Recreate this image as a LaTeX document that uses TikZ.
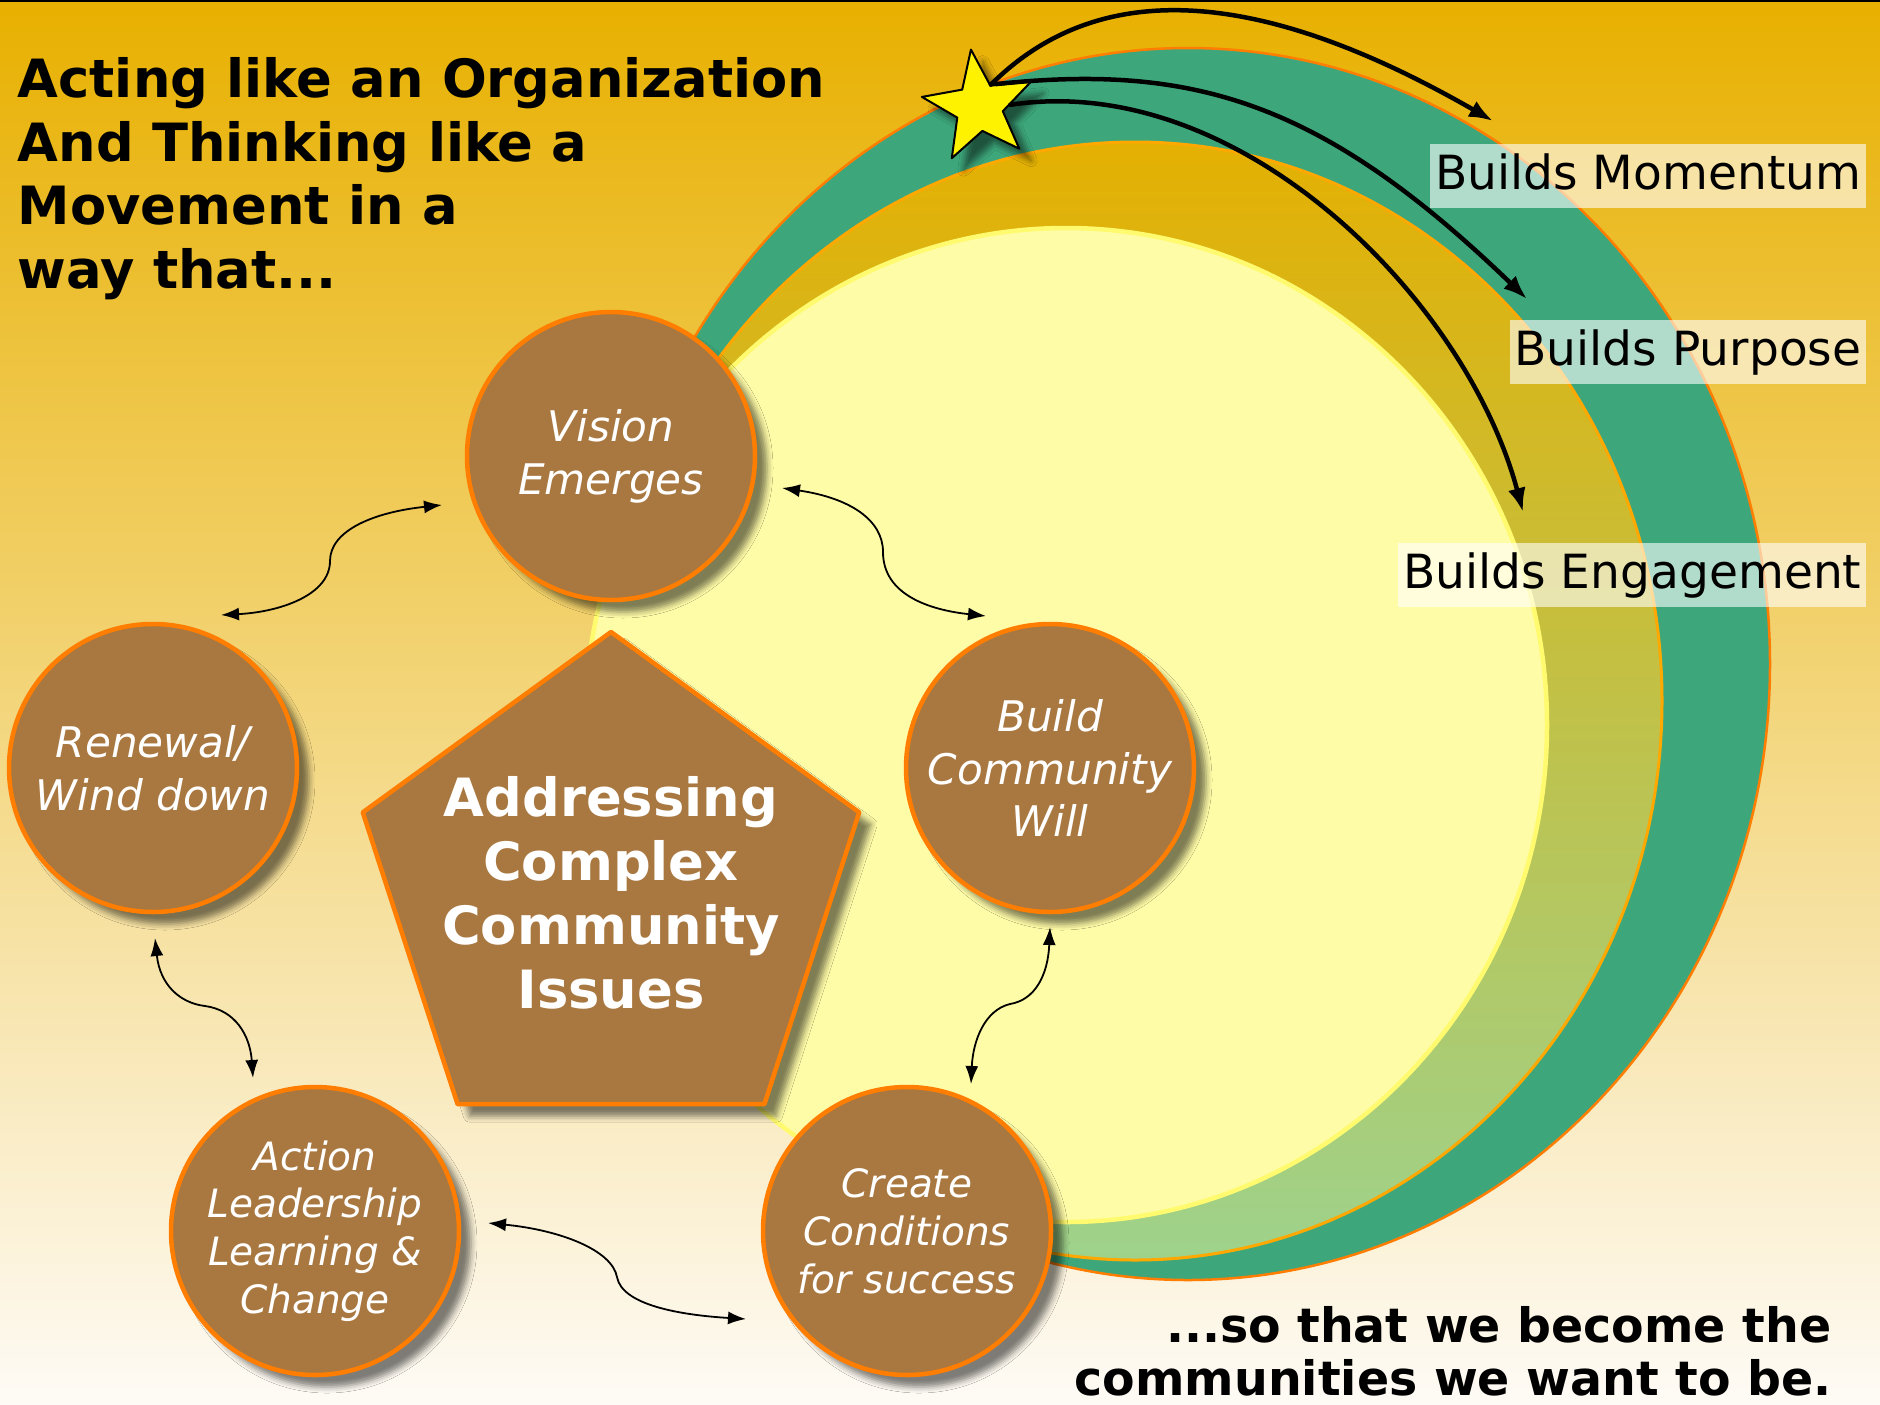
\documentclass[tikz,border=0pt]{standalone}
\usepackage{fontspec}
\setmainfont{DejaVu Sans}
\usetikzlibrary{arrows.meta,shapes.geometric,shadows.blur}
\definecolor{goldtop}{RGB}{232,176,0}
\definecolor{paper}{RGB}{254,251,246}
\definecolor{band}{RGB}{61,167,123}
\definecolor{ringtop}{RGB}{228,176,2}
\definecolor{ringbot}{RGB}{158,210,140}
\definecolor{pale}{RGB}{255,252,168}
\definecolor{paleedge}{RGB}{255,250,110}
\definecolor{rim}{RGB}{255,125,0}
\definecolor{rimlight}{RGB}{255,168,0}
\definecolor{bark}{RGB}{169,120,65}
\begin{document}
\begin{tikzpicture}[x=0.1mm, y=-0.1mm, line join=round, line cap=round,
  >={Latex[length=1.8mm,width=1.3mm]},
  soft/.style={blur shadow={shadow xshift=1.2mm, shadow yshift=-1.2mm, shadow blur radius=0.6mm, shadow opacity=50}},
  stage/.style={circle, soft, minimum size=28.8mm, inner sep=0pt, fill=bark, draw=rim, line width=0.45mm,
    text=white, align=center, font=\fontsize{12}{15}\selectfont\itshape},
  compact/.style={font=\fontsize{11.1}{13.6}\selectfont\itshape},
  link/.style={<->, line width=0.18mm},
  trail/.style={-{Latex[length=2.4mm,width=1.8mm]}, line width=0.45mm},
  tag/.style={anchor=east, fill=white, fill opacity=0.6, text opacity=1, inner xsep=0.5mm, minimum height=6.4mm,
    text height=0.75em, text depth=0pt, font=\fontsize{13.4}{16}\selectfont},
  heading/.style={inner sep=0pt, font=\fontsize{15}{18.1}\selectfont\bfseries}]
\def\W{1880} \def\H{1404}
\useasboundingbox (0,0) rectangle (\W,\H);
\shade[top color=goldtop, bottom color=paper] (0,0) rectangle (\W,\H);
\draw[line width=0.2mm] (0,1) -- (\W,1);
% the three bands behind the cycle
\draw[fill=band, draw=rim, line width=0.25mm] (1188,664) ellipse [x radius=582, y radius=616];
\shadedraw[top color=ringtop, bottom color=ringbot, draw=rimlight, line width=0.3mm] (1135,701) ellipse [x radius=527, y radius=559];
\draw[fill=pale, draw=paleedge, line width=0.45mm] (1066,725) ellipse [x radius=481, y radius=497];
% star and its trails
\node[star, star points=5, star point ratio=2.4, minimum size=11.6mm, inner sep=0pt, rotate=8,
  fill=yellow, draw=black, line width=0.2mm, soft] (star) at (979,107) {};
\coordinate (momentum) at (1493,121);
\coordinate (purpose) at (1527,299);
\coordinate (engage) at (1523,512);
\draw[trail] (star.54) .. controls (1095,-19) and (1251,-18) .. (momentum);
\draw[trail] (star.45) .. controls (1195,63) and (1324,103) .. (purpose);
\draw[trail] (star.-4) .. controls (1238,70) and (1466,298) .. (engage);
\node[tag] (momentumtag) at (1867,176) {Builds Momentum};
\node[tag] (purposetag) at (1867,352) {Builds Purpose};
\node[tag] (engagetag) at (1867,575) {Builds Engagement};
% cycle
\node[regular polygon, regular polygon sides=5, minimum size=52.2mm, inner sep=0pt, fill=bark, draw=rim,
  line width=0.45mm, soft,
  label={[name=issuestext, text=white, align=center, font=\fontsize{15}{18.2}\selectfont\bfseries]center:{Addressing\\Complex\\Community\\Issues}}]
  (issues) at (611,893) {};
\node[stage] (vision) at (611,456) {Vision\\Emerges};
\node[stage] (build) at (1050,768) {Build\\Community\\Will};
\node[stage, compact] (create) at (907,1231) {Create\\Conditions\\for success};
\node[stage, compact] (action) at (315,1231) {Action\\Leadership\\Learning \&\\Change};
\node[stage] (renewal) at (153,768) {Renewal/\\Wind down};
\coordinate (v1) at (442,505); \coordinate (r1) at (221,615);
\coordinate (v2) at (782,488); \coordinate (b1) at (986,616);
\coordinate (b2) at (1050,927); \coordinate (c1) at (971,1084);
\coordinate (c2) at (746,1319); \coordinate (a1) at (488,1223);
\coordinate (a2) at (253,1078); \coordinate (r2) at (155,938);
\draw[link] (v1) .. controls (375,512) and (330,530) .. (330,561) .. controls (330,595) and (280,612) .. (r1);
\draw[link] (v2) .. controls (850,498) and (883,520) .. (883,552) .. controls (883,595) and (930,610) .. (b1);
\draw[link] (b2) .. controls (1048,975) and (1035,1000) .. (1010,1004) .. controls (985,1010) and (973,1040) .. (c1);
\draw[link] (a1) .. controls (560,1230) and (612,1250) .. (617,1277) .. controls (622,1305) and (680,1315) .. (c2);
\draw[link] (r2) .. controls (160,985) and (180,1003) .. (205,1006) .. controls (235,1010) and (250,1035) .. (a2);
% texts
\node[heading, anchor=north west, align=left] (title) at (17,57)
  {Acting like an Organization\\And Thinking like a\\Movement in a\\way that...};
\node[heading, anchor=north east, align=right, font=\fontsize{13.5}{15.1}\selectfont\bfseries] (tail) at (1832,1306)
  {...so that we become the\\communities we want to be.};
\end{tikzpicture}
\end{document}
